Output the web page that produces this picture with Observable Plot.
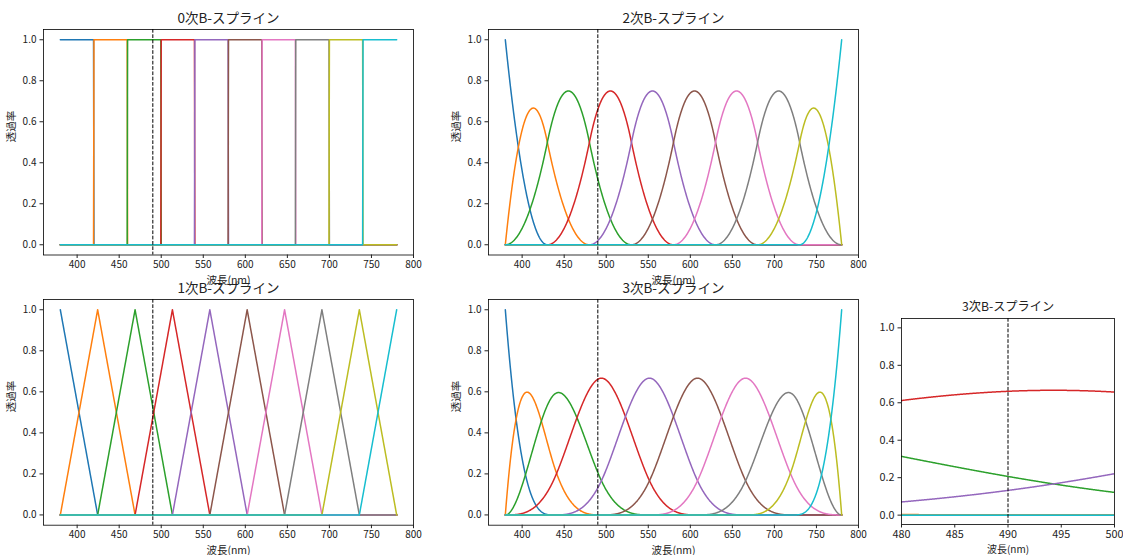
<!DOCTYPE html>
<html>
<head>
<meta charset="utf-8">
<script src="https://cdn.jsdelivr.net/npm/d3@7"></script>
<script src="https://cdn.jsdelivr.net/npm/@observablehq/plot@0.6"></script>
<style>
  html, body { margin: 0; padding: 0; background: #fff; }
  #chart { position: relative; width: 1123px; height: 555px; overflow: hidden; background: #fff; }
  .panel { position: absolute; }
</style>
</head>
<body>
<div id="chart"></div>
<script>
// Wavelength breakpoints (nm) of each B-spline basis, one array per degree
const breaks0 = [380, 420, 460, 500, 540, 580, 620, 660, 700, 740, 780];
const breaks1 = [380, 424.4, 468.9, 513.3, 557.8, 602.2, 646.7, 691.1, 735.6, 780];
const breaks2 = [380, 430, 480, 530, 580, 630, 680, 730, 780];
const breaks3 = [380, 437.1, 494.3, 551.4, 608.6, 665.7, 722.9, 780];

// Marked wavelength (dashed line)
const markerWavelength = 490;

// Titles and axis labels
const titles = ["0次B-スプライン", "2次B-スプライン", "1次B-スプライン", "3次B-スプライン", "3次B-スプライン"];
const xLabel = "波長(nm)";
const yLabel = "透過率";

// Tick values
const xTicks = [400, 450, 500, 550, 600, 650, 700, 750, 800];
const zoomTicks = [480, 485, 490, 495, 500];
const yTicks = [0, 0.2, 0.4, 0.6, 0.8, 1.0];

// Series colours (one per basis function)
const seriesColors = ["#1f77b4", "#ff7f0e", "#2ca02c", "#d62728", "#9467bd",
                      "#8c564b", "#e377c2", "#7f7f7f", "#bcbd22", "#17becf"];

// Clamped knot vector: end breakpoints repeated `degree` extra times
function clampedKnots(breaks, degree) {
  const a = breaks[0], b = breaks[breaks.length - 1];
  return [...Array(degree).fill(a), ...breaks, ...Array(degree).fill(b)];
}

// Cox–de Boor evaluation of every basis function at x
function basisAt(t, k, x) {
  const m = t.length - 1;
  const N = new Array(m).fill(0);
  let j = -1;
  for (let i = 0; i < m; i++) {
    if (t[i] < t[i + 1] && t[i] <= x && x < t[i + 1]) { j = i; break; }
  }
  if (j < 0) { // right end: last non-empty interval
    for (let i = m - 1; i >= 0; i--) if (t[i] < t[i + 1]) { j = i; break; }
  }
  N[j] = 1;
  for (let d = 1; d <= k; d++) {
    for (let i = 0; i < m - d; i++) {
      const l = t[i + d] - t[i], r = t[i + d + 1] - t[i + 1];
      N[i] = (l ? (x - t[i]) / l * N[i] : 0) + (r ? (t[i + d + 1] - x) / r * N[i + 1] : 0);
    }
  }
  return N.slice(0, t.length - k - 1);
}

// Long-format table: rows ordered series by series so later series draw on top
function basisTable(breaks, degree, lo, hi, step) {
  const t = clampedKnots(breaks, degree);
  const xs = new Set();
  for (let x = lo; x <= hi + 1e-9; x += step) xs.add(+x.toFixed(4));
  breaks.forEach(b => { if (b >= lo && b <= hi) xs.add(b); });
  const sorted = [...xs].sort((a, b) => a - b);
  const values = sorted.map(x => basisAt(t, degree, x));
  const n = values[0].length;
  const rows = [];
  for (let i = 0; i < n; i++) sorted.forEach((x, s) => rows.push({x, v: values[s][i], i}));
  return rows;
}

const FONT = "'Noto Sans CJK JP', 'Noto Sans', sans-serif";

const panels = [
  {title: titles[0], data: basisTable(breaks0, 0, 380, 780, 0.5), left: 43.3, top: 28.7, w: 370, h: 225.5, domain: [360, 800], ticks: xTicks, ylab: true, tick: 10, titleSize: 13.5, labelSize: 10.5, titleDy: -6.5},
  {title: titles[1], data: basisTable(breaks2, 2, 380, 780, 0.5), left: 487.5, top: 28.7, w: 370, h: 225.5, domain: [360, 800], ticks: xTicks, ylab: true, tick: 10, titleSize: 13.5, labelSize: 10.5, titleDy: -6.5},
  {title: titles[2], data: basisTable(breaks1, 1, 380, 780, 0.5), left: 43.3, top: 299.3, w: 370, h: 225.7, domain: [360, 800], ticks: xTicks, ylab: true, tick: 10, titleSize: 13.5, labelSize: 10.5, titleDy: -6.5},
  {title: titles[3], data: basisTable(breaks3, 3, 380, 780, 0.5), left: 487.5, top: 299.3, w: 370, h: 225.7, domain: [360, 800], ticks: xTicks, ylab: true, tick: 10, titleSize: 13.5, labelSize: 10.5, titleDy: -6.5},
  {title: titles[4], data: basisTable(breaks3, 3, 480, 500, 0.05), left: 901, top: 318.3, w: 213, h: 206, domain: [480, 500], ticks: zoomTicks, ylab: false, tick: 10.8, titleSize: 12.2, labelSize: 10, titleDy: -7.5}
];

const chart = document.getElementById("chart");
const mL = 45, mT = 30, mR = 8, mB = 34;

for (const p of panels) {
  const svg = Plot.plot({
    width: mL + p.w + mR,
    height: mT + p.h + mB,
    marginLeft: mL, marginTop: mT, marginRight: mR, marginBottom: mB,
    style: {fontFamily: FONT, fontSize: `${p.tick}px`, color: "#222", background: "transparent", overflow: "visible"},
    x: {domain: p.domain},
    y: {domain: [-0.05, 1.05]},
    color: {type: "ordinal", domain: d3.range(10), range: seriesColors},
    marks: [
      Plot.line(p.data, {x: "x", y: "v", z: "i", stroke: "i", strokeWidth: 1.5, clip: true}),
      Plot.ruleX([markerWavelength], {stroke: "black", strokeWidth: 1, strokeDasharray: "3.7,1.6"}),
      Plot.frame({stroke: "black", strokeWidth: 0.8}),
      Plot.axisX({ticks: p.ticks, tickSize: 3.5, tickPadding: 2, tickFormat: d3.format("d"), label: null, fontSize: p.tick}),
      Plot.axisY({ticks: yTicks, tickSize: 3.5, tickPadding: 3.5, tickFormat: d3.format(".1f"), label: null, fontSize: p.tick}),
      Plot.text([p.title], {frameAnchor: "top", lineAnchor: "bottom", dy: p.titleDy, fontSize: p.titleSize, fill: "#222"}),
      Plot.text([xLabel], {frameAnchor: "bottom", lineAnchor: "bottom", dy: 28.8, fontSize: p.labelSize, fill: "#222"}),
      ...(p.ylab ? [Plot.text([yLabel], {frameAnchor: "left", rotate: -90, dx: -32, fontSize: p.labelSize, fill: "#222"})] : [])
    ]
  });
  const holder = document.createElement("div");
  holder.className = "panel";
  holder.style.left = `${p.left - mL}px`;
  holder.style.top = `${p.top - mT}px`;
  holder.appendChild(svg);
  chart.appendChild(holder);
}
</script>
</body>
</html>
